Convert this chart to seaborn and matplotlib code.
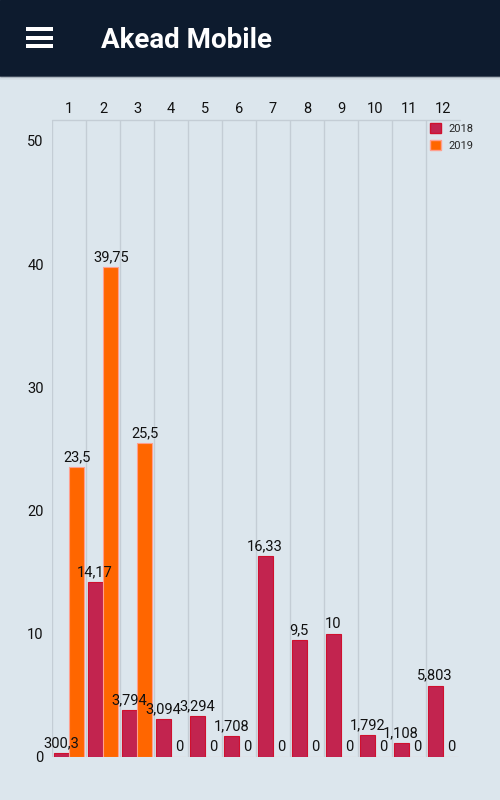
import matplotlib
matplotlib.use('Agg')
import matplotlib.pyplot as plt
import matplotlib.patches as mpatches
import pandas as pd
import seaborn as sns

# chart values
months = ['1', '2', '3', '4', '5', '6', '7', '8', '9', '10', '11', '12']
values_2018 = [0.3, 14.17, 3.794, 3.094, 3.294, 1.708, 16.33, 9.5, 10,
               1.792, 1.108, 5.803]
values_2019 = [23.5, 39.75, 25.5, 0, 0, 0, 0, 0, 0, 0, 0, 0]
labels_2018 = ['300,3', '14,17', '3,794', '3,094', '3,294', '1,708',
               '16,33', '9,5', '10', '1,792', '1,108', '5,803']
labels_2019 = ['23,5', '39,75', '25,5', '0', '0', '0', '0', '0', '0', '0',
               '0', '0']
years = ['2018', '2019']
y_ticks = [0, 10, 20, 30, 40, 50]

BG = '#dce6ed'
HEADER = '#0d1b2e'
GRID = '#c4cdd5'
RED = '#c2244f'
ORANGE = '#ff6600'


def build_frame():
    """
    Returns the long form DataFrame used by seaborn.
    """
    rows = []
    for i, m in enumerate(months):
        rows.append({'month': m, 'year': years[0], 'value': values_2018[i]})
        rows.append({'month': m, 'year': years[1], 'value': values_2019[i]})
    return pd.DataFrame(rows)


def draw_header(fig):
    """
    Draws the dark app bar with the menu icon and title.
    """
    fig.patches.append(mpatches.Rectangle((0, 1 - 76 / 800), 1, 76 / 800,
                                          transform=fig.transFigure,
                                          color=HEADER, zorder=5))
    # soft shadow under the bar
    for k in range(4):
        fig.patches.append(mpatches.Rectangle(
            (0, 1 - (77 + k) / 800), 1, 1 / 800, transform=fig.transFigure,
            color='#9aa4ad', alpha=0.35 - 0.08 * k, zorder=5, lw=0))
    for yy in [29, 38, 46]:
        fig.patches.append(mpatches.Rectangle(
            (26 / 500, 1 - (yy + 1.5) / 800), 27 / 500, 3 / 800,
            transform=fig.transFigure, color='white', zorder=6, lw=0))
    fig.text(101 / 500, 1 - 41 / 800, 'Akead Mobile', color='white',
             fontsize=20, fontweight='bold', family='Roboto',
             va='center', ha='left', zorder=7)


def main():
    sns.set_style('white')
    plt.rcParams['font.family'] = ['Roboto', 'DejaVu Sans']
    df = build_frame()

    fig = plt.figure(figsize=(5, 8), dpi=100, facecolor=BG)
    ax = fig.add_axes([52 / 500, 43 / 800, 408 / 500, 637 / 800])
    ax.set_facecolor(BG)

    sns.barplot(data=df, x='month', y='value', hue='year', order=months,
                hue_order=years, palette=[RED, ORANGE], width=0.92,
                gap=0.06, saturation=1, ax=ax, legend=False)

    edges = ['#d0102e', '#ff9f8f']
    for cont, ec, labs in zip(ax.containers, edges,
                              [labels_2018, labels_2019]):
        for bar in cont:
            bar.set_edgecolor(ec)
            bar.set_linewidth(0.8)
        ax.bar_label(cont, labels=labs, padding=2, fontsize=10.5,
                     color='#111111')

    ax.set_xlim(-0.5, 11.5)
    ax.set_ylim(0, 637 / 12.32)
    ax.set_yticks(y_ticks)
    ax.set_xlabel('')
    ax.set_ylabel('')
    ax.xaxis.tick_top()
    ax.tick_params(axis='both', length=0, labelsize=10.5, colors='#111111')
    ax.tick_params(axis='x', pad=3)
    ax.tick_params(axis='y', pad=6)

    for s in ax.spines.values():
        s.set_visible(False)
    ax.axhline(ax.get_ylim()[1], color=GRID, lw=1, clip_on=False)
    for i in range(12):
        ax.axvline(i - 0.5, color=GRID, lw=1, zorder=0)

    handles = [mpatches.Patch(facecolor=RED, edgecolor='#d0102e'),
               mpatches.Patch(facecolor=ORANGE, edgecolor='#ff9f8f')]
    ax.legend(handles, years, loc='upper left', frameon=False, fontsize=8,
              handlelength=1.0, handleheight=1.0, handletextpad=0.7,
              labelspacing=0.6, borderpad=0, borderaxespad=0,
              bbox_to_anchor=(430 / 500, 1 - 123 / 800),
              bbox_transform=fig.transFigure)

    draw_header(fig)
    fig.savefig('out.png', dpi=100, facecolor=BG)


if __name__ == '__main__':
    main()
